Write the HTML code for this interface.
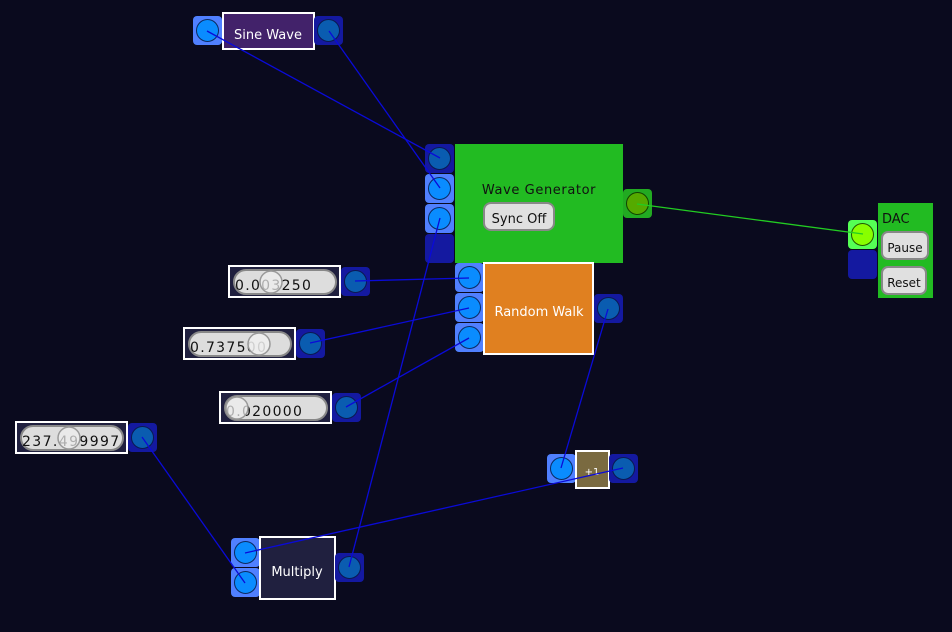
<!DOCTYPE html>
<html><head><meta charset="utf-8"><style>
html,body{margin:0;padding:0;background:#0a0a1e;}
svg{display:block}
text{font-family:"DejaVu Sans","Liberation Sans",sans-serif;}
</style></head><body>
<svg width="952" height="632" viewBox="0 0 952 632" xmlns="http://www.w3.org/2000/svg">
<rect width="952" height="632" fill="#0a0a1e"/>
<defs>
<g id="pl"><rect x="0" y="0" width="29" height="29" rx="4" fill="#5080ff"/><circle cx="14.5" cy="14.5" r="11" fill="#0a8cff" stroke="#0a2a60" stroke-width="1"/></g>
<g id="pd"><rect x="0" y="0" width="29" height="29" rx="4" fill="#1419a0"/><circle cx="14.5" cy="14.5" r="11" fill="#0a5cb0" stroke="#0a1a50" stroke-width="1"/></g>
</defs>

<!-- Sine Wave -->
<use href="#pl" x="193" y="16"/>
<rect x="223" y="13" width="91" height="36" fill="#42226a" stroke="#fff" stroke-width="2"/>
<text x="268" y="39" font-size="13" fill="#fff" text-anchor="middle">Sine Wave</text>
<use href="#pd" x="314" y="16"/>

<!-- Wave Generator -->
<use href="#pd" x="425" y="144"/>
<use href="#pl" x="425" y="174"/>
<use href="#pl" x="425" y="204"/>
<rect x="425" y="234" width="29" height="29" rx="4" fill="#1419a0"/>
<rect x="455" y="144" width="168" height="119" fill="#22bb22"/>
<text x="539" y="194" font-size="13" fill="#111" text-anchor="middle" letter-spacing="0.6">Wave Generator</text>
<rect x="484" y="203" width="70" height="27" rx="7" fill="#e0e0e0" stroke="#888" stroke-width="2"/>
<text x="519" y="223" font-size="13" fill="#111" text-anchor="middle">Sync Off</text>
<rect x="623" y="189" width="29" height="29" rx="4" fill="#22aa22"/>
<circle cx="637.5" cy="203.5" r="11" fill="#55aa00" stroke="#114400"/>

<!-- Random Walk -->
<use href="#pl" x="455" y="263"/>
<use href="#pl" x="455" y="293"/>
<use href="#pl" x="455" y="323"/>
<rect x="484" y="263" width="109" height="91" fill="#e08020" stroke="#fff" stroke-width="2"/>
<text x="539" y="316" font-size="13" fill="#fff" text-anchor="middle">Random Walk</text>
<use href="#pd" x="594" y="294"/>

<!-- Sliders -->
<g>
<rect x="229" y="266" width="111" height="31" fill="#20203f" stroke="#fff" stroke-width="2"/>
<rect x="234" y="270" width="102" height="24" rx="12" fill="#ddd" stroke="#888" stroke-width="2"/>
<text x="235" y="290" font-size="14" fill="#111" letter-spacing="1.3">0.003250</text>
<circle cx="271" cy="282" r="11" fill="rgba(240,240,240,0.7)" stroke="#999" stroke-width="1.5"/>
<use href="#pd" x="341" y="267"/>
</g>
<g>
<rect x="184" y="328" width="111" height="31" fill="#20203f" stroke="#fff" stroke-width="2"/>
<rect x="189" y="332" width="102" height="24" rx="12" fill="#ddd" stroke="#888" stroke-width="2"/>
<text x="190" y="352" font-size="14" fill="#111" letter-spacing="1.3">0.737500</text>
<circle cx="259" cy="344" r="11" fill="rgba(240,240,240,0.85)" stroke="#999" stroke-width="1.5"/>
<use href="#pd" x="296" y="329"/>
</g>
<g>
<rect x="220" y="392" width="111" height="31" fill="#20203f" stroke="#fff" stroke-width="2"/>
<rect x="225" y="396" width="102" height="24" rx="12" fill="#ddd" stroke="#888" stroke-width="2"/>
<text x="226" y="416" font-size="14" fill="#111" letter-spacing="1.3">0.020000</text>
<circle cx="237" cy="408" r="11" fill="rgba(240,240,240,0.7)" stroke="#999" stroke-width="1.5"/>
<use href="#pd" x="332" y="393"/>
</g>
<g>
<rect x="16" y="422" width="111" height="31" fill="#20203f" stroke="#fff" stroke-width="2"/>
<rect x="21" y="426" width="102" height="24" rx="12" fill="#ddd" stroke="#888" stroke-width="2"/>
<text x="22" y="446" font-size="14" fill="#111" letter-spacing="1.4">237.499997</text>
<circle cx="69" cy="438" r="11" fill="rgba(240,240,240,0.7)" stroke="#999" stroke-width="1.5"/>
<use href="#pd" x="128" y="423"/>
</g>

<!-- Multiply -->
<use href="#pl" x="231" y="538"/>
<use href="#pl" x="231" y="568"/>
<rect x="260" y="537" width="75" height="62" fill="#20203f" stroke="#fff" stroke-width="2"/>
<text x="297" y="576" font-size="13" fill="#fff" text-anchor="middle">Multiply</text>
<use href="#pd" x="335" y="553"/>

<!-- +1 -->
<use href="#pl" x="547" y="454"/>
<rect x="576" y="451" width="33" height="37" fill="#7a6a40" stroke="#fff" stroke-width="2"/>
<text x="592" y="475" font-size="10" fill="#fff" text-anchor="middle">+1</text>
<use href="#pd" x="609" y="454"/>

<!-- DAC -->
<rect x="878" y="203" width="55" height="95" fill="#22bb22"/>
<rect x="848" y="220" width="29" height="29" rx="4" fill="#55ff55"/>
<circle cx="862.5" cy="234.5" r="11" fill="#88ff00" stroke="#225500"/>
<rect x="848" y="250" width="29" height="29" rx="4" fill="#1419a0"/>
<text x="882" y="223" font-size="13" fill="#111">DAC</text>
<rect x="882" y="232" width="46" height="27" rx="6" fill="#e0e0e0" stroke="#888" stroke-width="2"/>
<text x="905" y="252" font-size="12" fill="#111" text-anchor="middle">Pause</text>
<rect x="882" y="267" width="44" height="27" rx="6" fill="#e0e0e0" stroke="#888" stroke-width="2"/>
<text x="904" y="287" font-size="12" fill="#111" text-anchor="middle">Reset</text>

<!-- Wires -->
<g stroke="#0a0ad8" stroke-width="1.3" fill="none">
<line x1="207" y1="31" x2="440" y2="158"/>
<line x1="329" y1="31" x2="440" y2="188"/>
<line x1="440" y1="218" x2="349" y2="567"/>
<line x1="355" y1="281" x2="469" y2="278"/>
<line x1="310" y1="343" x2="469" y2="308"/>
<line x1="346" y1="407" x2="469" y2="338"/>
<line x1="608" y1="309" x2="561" y2="468"/>
<line x1="142" y1="437" x2="245" y2="583"/>
<line x1="245" y1="553" x2="623" y2="468"/>
</g>
<line x1="637" y1="204" x2="863" y2="234" stroke="#22cc22" stroke-width="1.3"/>
</svg>
</body></html>
